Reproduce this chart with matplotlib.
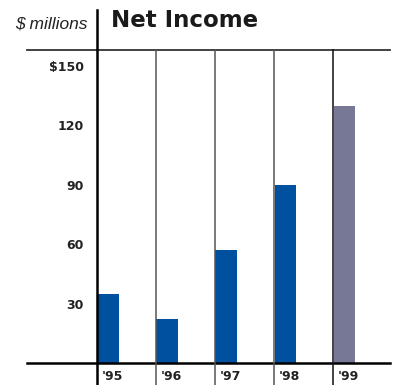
import matplotlib
matplotlib.use("Agg")
import matplotlib.pyplot as plt

years = ["'95", "'96", "'97", "'98", "'99"]
net_income = [35, 22, 57, 90, 130]
bar_colors = ["#0050a0", "#0050a0", "#0050a0", "#0050a0", "#777896"]
y_ticks = [30, 60, 90, 120, 150]
y_tick_labels = ["30", "60", "90", "120", "$150"]

W, H = 396, 385
fig = plt.figure(figsize=(W / 100, H / 100), dpi=100)

left_px, right_px, top_px, bot_px = 96.5, 390, 50, 363
ax = fig.add_axes([left_px / W, (H - bot_px) / H,
                   (right_px - left_px) / W, (bot_px - top_px) / H])

col_px = 59.1
ppu = 1.98
ax.set_xlim(0, (right_px - left_px) / col_px)
ax.set_ylim(0, (bot_px - top_px) / ppu)

xs = [i + 0.012 for i in range(len(years))]
ax.bar(xs, net_income, width=0.37, align="edge", color=bar_colors, zorder=2)

for s in ax.spines.values():
    s.set_visible(False)

ax.set_xticks([])
ax.set_yticks(y_ticks)
ax.set_yticklabels(y_tick_labels, fontsize=9, fontweight="bold",
                   family="DejaVu Sans", color="#222222")
ax.tick_params(axis="y", length=0, pad=9)

ax_h = bot_px - top_px
ax_w = right_px - left_px
below = -(H - bot_px) / ax_h
xleft = -(left_px - 27) / ax_w

# horizontal rules
ax.axhline(ax.get_ylim()[1], xmin=xleft, xmax=1.0, color="#333333", lw=1.3,
           clip_on=False, zorder=3)
ax.axhline(0, xmin=xleft, xmax=1.0, color="#000000", lw=1.8,
           clip_on=False, zorder=3)

# vertical rules
ax.axvline(0, ymin=below, ymax=(bot_px - 10) / ax_h, color="#000000", lw=1.8,
           clip_on=False, zorder=3)
for i in range(1, len(years)):
    ax.axvline(i, ymin=below, ymax=1.0, color="#555555" if i < 4 else "#111111",
               lw=1.1, clip_on=False, zorder=3)

for i, lab in enumerate(years):
    ax.annotate(lab, xy=(i, 0), xycoords=("data", "axes fraction"),
                xytext=(5, -14), textcoords="offset pixels",
                ha="left", va="center", fontsize=9, fontweight="bold",
                family="DejaVu Sans", color="#222222")

fig.text(111 / W, (H - 27.3) / H, "Net Income", ha="left", va="baseline",
         fontsize=16.5, fontweight="bold", family="DejaVu Sans", color="#1a1a1a")
fig.text(87.5 / W, (H - 28) / H, "$ millions", ha="right", va="baseline",
         fontsize=12.5, style="italic", family="Liberation Sans", color="#222222")

fig.savefig("out.png", dpi=100)
